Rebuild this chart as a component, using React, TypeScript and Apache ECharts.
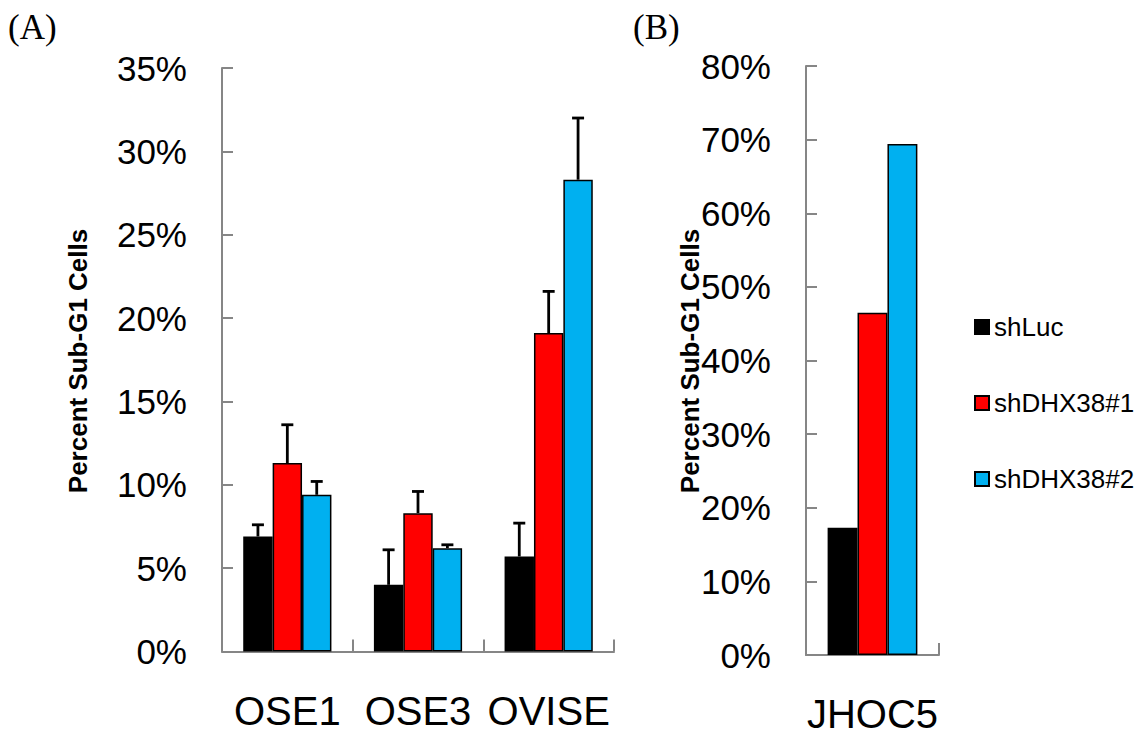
import React, { useEffect, useRef } from "react";
import * as echarts from "echarts";

// Panel (A): normal ovarian epithelial lines and OVISE
const cellLinesA = ["OSE1", "OSE3", "OVISE"];
const shLucA = [6.9, 4.0, 5.7];
const shLucErrA = [0.7, 2.1, 2.0];
const shDHX1A = [11.3, 8.3, 19.1];
const shDHX1ErrA = [2.3, 1.3, 2.5];
const shDHX2A = [9.4, 6.2, 28.3];
const shDHX2ErrA = [0.8, 0.2, 3.7];

// Panel (B): JHOC5
const cellLinesB = ["JHOC5"];
const shLucB = [17.3];
const shDHX1B = [46.5];
const shDHX2B = [69.4];

const seriesNames = ["shLuc", "shDHX38#1", "shDHX38#2"];
const seriesColors = ["#000000", "#FF0000", "#00B0F0"];

const yMaxA = 35;
const yStepA = 5;
const yMaxB = 80;
const yStepB = 10;

const CAT_GAP = 0.325;
const AXIS_GRAY = "#868686";
const SANS = "'Liberation Sans', Arial, sans-serif";

function barSeries(idx: number, values: number[], axis: number) {
  return {
    type: "bar",
    name: seriesNames[idx],
    xAxisIndex: axis,
    yAxisIndex: axis,
    data: values,
    barGap: "0%",
    barCategoryGap: `${CAT_GAP * 100}%`,
    itemStyle: {
      color: seriesColors[idx],
      borderColor: "#000000",
      borderWidth: 1.5,
    },
    z: 2,
  };
}

function errorSeries(idx: number, means: number[], errs: number[], axis: number) {
  return {
    type: "custom",
    name: seriesNames[idx] + " SD",
    xAxisIndex: axis,
    yAxisIndex: axis,
    z: 5,
    encode: { x: 0, y: 1 },
    data: means.map((m, i) => [i, m, errs[i]]),
    renderItem: (_params: any, api: any) => {
      const ci = api.value(0);
      const m = api.value(1);
      const e = api.value(2);
      const catW = api.size([1, 0])[0];
      const groupW = catW * (1 - CAT_GAP);
      const barW = groupW / 3;
      const base = api.coord([ci, m]);
      const top = api.coord([ci, m + e]);
      const cx = base[0] - groupW / 2 + barW * (idx + 0.5);
      const style = { stroke: "#000000", lineWidth: 2.8 };
      return {
        type: "group",
        children: [
          { type: "line", shape: { x1: cx, y1: base[1], x2: cx, y2: top[1] }, style },
          { type: "line", shape: { x1: cx - 6, y1: top[1], x2: cx + 6, y2: top[1] }, style },
        ],
      };
    },
  };
}

function categoryAxis(data: string[], gridIndex: number) {
  return {
    type: "category",
    gridIndex,
    data,
    boundaryGap: true,
    axisLine: { show: true, lineStyle: { color: AXIS_GRAY, width: 2 } },
    axisTick: { show: true, inside: true, length: 12, lineStyle: { color: AXIS_GRAY, width: 2 } },
    axisLabel: {
      color: "#000000",
      fontSize: 40,
      fontFamily: SANS,
      margin: 39,
      interval: 0,
      hideOverlap: false,
    },
  };
}

function valueAxis(max: number, step: number, gridIndex: number) {
  return {
    type: "value",
    gridIndex,
    min: 0,
    max,
    interval: step,
    splitLine: { show: false },
    axisLine: { show: true, lineStyle: { color: AXIS_GRAY, width: 2 } },
    axisTick: { show: true, inside: true, length: 11, lineStyle: { color: AXIS_GRAY, width: 2 } },
    axisLabel: { color: "#000000", fontSize: 35, fontFamily: SANS, margin: 35, formatter: "{value}%" },
  };
}

function axisTitle(x: number) {
  return {
    type: "text",
    x,
    y: 361,
    rotation: Math.PI / 2,
    style: {
      text: "Percent Sub-G1 Cells",
      fontSize: 26,
      fontWeight: "bold",
      fontFamily: SANS,
      fill: "#000000",
      align: "center",
      verticalAlign: "middle",
    },
  };
}

function panelTag(text: string, left: number) {
  return {
    type: "text",
    left,
    top: 10,
    style: { text, fontSize: 35, fontFamily: "'Liberation Serif', 'Times New Roman', serif", fill: "#000000" },
  };
}

export default function App() {
  const ref = useRef<HTMLDivElement>(null);

  useEffect(() => {
    if (!ref.current) return;
    const chart = echarts.init(ref.current, null, { renderer: "svg" });
    chart.setOption({
      animation: false,
      backgroundColor: "#ffffff",
      grid: [
        { left: 222, top: 68, width: 392, height: 583.5 },
        { left: 806, top: 66, width: 133, height: 589 },
      ],
      xAxis: [categoryAxis(cellLinesA, 0), categoryAxis(cellLinesB, 1)],
      yAxis: [valueAxis(yMaxA, yStepA, 0), valueAxis(yMaxB, yStepB, 1)],
      legend: {
        data: seriesNames,
        orient: "vertical",
        left: 969,
        top: 309,
        itemWidth: 14,
        itemHeight: 14,
        itemGap: 50,
        icon: "rect",
        selectedMode: false,
        textStyle: { color: "#000000", fontSize: 26, fontFamily: SANS },
      },
      graphic: [panelTag("(A)", 8), panelTag("(B)", 633), axisTitle(78), axisTitle(690)],
      series: [
        barSeries(0, shLucA, 0),
        barSeries(1, shDHX1A, 0),
        barSeries(2, shDHX2A, 0),
        errorSeries(0, shLucA, shLucErrA, 0),
        errorSeries(1, shDHX1A, shDHX1ErrA, 0),
        errorSeries(2, shDHX2A, shDHX2ErrA, 0),
        barSeries(0, shLucB, 1),
        barSeries(1, shDHX1B, 1),
        barSeries(2, shDHX2B, 1),
      ],
    });
    return () => chart.dispose();
  }, []);

  return (
    <div
      ref={ref}
      style={{ position: "fixed", left: 0, top: 0, width: 1140, height: 738, background: "#ffffff" }}
    />
  );
}
